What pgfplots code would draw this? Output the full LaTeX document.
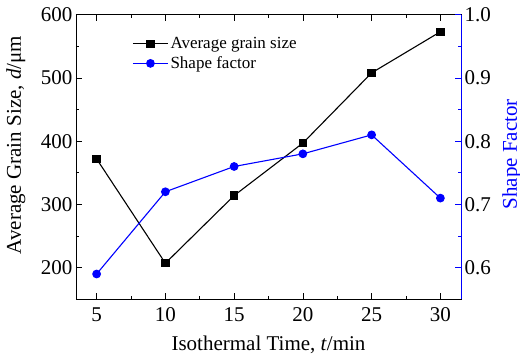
\documentclass[border=0pt]{standalone}
\usepackage{pgfplots}
\pgfplotsset{compat=1.18}
\usepackage{fontspec}
\setmainfont{Liberation Serif}
\begin{document}
\begin{tikzpicture}
\path[use as bounding box] (-76pt,-58.7pt) rectangle (444pt,299.3pt);
\pgfplotsset{
  every axis/.append style={
    scale only axis, width=385pt, height=284.6pt,
    xmin=3.5, xmax=31.5,
    tick align=inside,
    /pgf/number format/assume math mode=true,
    tick label style={font=\fontsize{21}{24}\selectfont},
    label style={font=\fontsize{21}{24}\selectfont},
    major tick length=6pt, minor tick length=3.5pt,
    axis line style={line width=0.9pt},
    every tick/.style={line width=0.7pt},
  }
}
\begin{axis}[
  at={(0,0)}, anchor=south west,
  ymin=150, ymax=600,
  xtick={5,10,...,30}, minor x tick num=1,
  ytick={200,300,...,600}, minor y tick num=1,
  ytick pos=left, xtick pos=both,
  xticklabel style={anchor=base, yshift=-22.4pt},
  xlabel={Isothermal Time, \textit{t}/min},
  xlabel style={at={(axis description cs:0.5,0)}, anchor=base, yshift=-51.4pt},
  ylabel={Average Grain Size, \textit{d}/μm},
  ylabel style={at={(axis description cs:-0.156,0.542)}, anchor=center},
  legend style={draw=none, fill=none, at={(axis description cs:0.146,0.928)}, anchor=north west,
    font=\fontsize{17}{19}\selectfont, row sep=2.5pt, inner sep=0pt},
  legend cell align=left,
  legend image code/.code={\draw[mark repeat=2,mark phase=2,#1] plot coordinates {(0pt,0pt) (17.5pt,0pt) (35pt,0pt)};},
]
\addplot[black, line width=1.1pt, mark=square*, mark size=3.6pt, mark options={solid}] coordinates {
  (5,372) (10,207) (15,314) (20,397) (25,508) (30,573)
};
\addlegendentry{Average grain size}
\addlegendimage{blue, line width=1.1pt, mark=*, mark size=3.8pt}
\addlegendentry{Shape factor}
\end{axis}
\begin{axis}[
  at={(0,0)}, anchor=south west,
  ymin=0.55, ymax=1.0,
  axis x line=none,
  axis y line*=right,
  y axis line style={blue, -},
  ytick={0.6,0.7,0.8,0.9,1.0}, minor y tick num=1,
  ytick style={blue},
  every minor tick/.append style={blue},
  yticklabel style={/pgf/number format/.cd, fixed, fixed zerofill, precision=1},
  ylabel={Shape Factor},
  ylabel style={blue, at={(axis description cs:1.132,0.51)}, anchor=center},
]
\addplot[blue, line width=1.1pt, mark=*, mark size=3.8pt] coordinates {
  (5,0.59) (10,0.72) (15,0.76) (20,0.78) (25,0.81) (30,0.71)
};
\end{axis}
\end{tikzpicture}
\end{document}
